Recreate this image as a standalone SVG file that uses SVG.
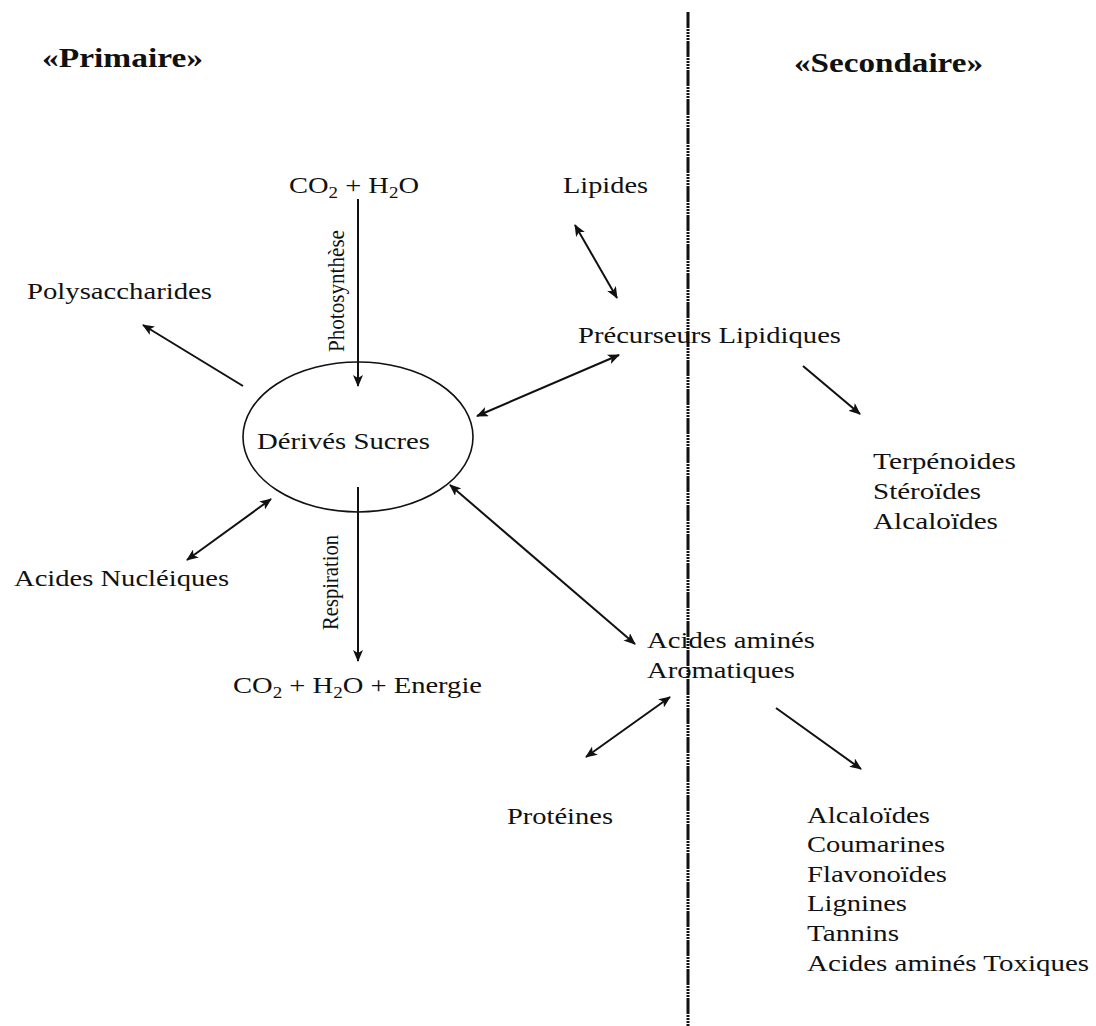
<svg xmlns="http://www.w3.org/2000/svg" width="1096" height="1026" viewBox="0 0 1096 1026">
<style>
  text { font-family: "Liberation Serif", "Times New Roman", serif; font-size: 24px; fill: #111; }
  .title { font-weight: bold; font-size: 27px; }
  .rot { font-size: 20px; }
  .sub { font-size: 16px; }
  .conn { stroke: #111; stroke-width: 2; fill: none; }
  .divider { stroke: #111; stroke-width: 3; stroke-dasharray: 16 1 2 1 2 1 2 1 2 1; fill: none; }
  .node { fill: none; stroke: #111; stroke-width: 1.6; }
</style>
<defs>
  <marker id="ah" viewBox="0 0 12 10" markerWidth="12" markerHeight="10" refX="11" refY="5" orient="auto-start-reverse" markerUnits="userSpaceOnUse">
    <path d="M0,0 L12,5 L0,10 L3,5 z" fill="#111"/>
  </marker>
</defs>
<rect width="1096" height="1026" fill="#fff"/>

<g id="titles">
  <text class="title" x="42" y="67" textLength="161" lengthAdjust="spacingAndGlyphs">«Primaire»</text>
  <text class="title" x="794" y="72" textLength="189" lengthAdjust="spacingAndGlyphs">«Secondaire»</text>
</g>

<g id="connectors">
  <line class="divider" x1="688" y1="12" x2="688" y2="1026"/>
  <line class="conn" x1="358" y1="199" x2="358" y2="386" marker-end="url(#ah)"/>
  <line class="conn" x1="358" y1="487" x2="358" y2="661" marker-end="url(#ah)"/>
  <line class="conn" x1="243" y1="386" x2="143" y2="325" marker-end="url(#ah)"/>
  <line class="conn" x1="187" y1="560" x2="271" y2="499" marker-start="url(#ah)" marker-end="url(#ah)"/>
  <line class="conn" x1="575" y1="225" x2="617" y2="298" marker-start="url(#ah)" marker-end="url(#ah)"/>
  <line class="conn" x1="477" y1="416" x2="619" y2="355" marker-start="url(#ah)" marker-end="url(#ah)"/>
  <line class="conn" x1="803" y1="366" x2="860" y2="414" marker-end="url(#ah)"/>
  <line class="conn" x1="450" y1="485" x2="635" y2="644" marker-start="url(#ah)" marker-end="url(#ah)"/>
  <line class="conn" x1="586" y1="757" x2="670" y2="697" marker-start="url(#ah)" marker-end="url(#ah)"/>
  <line class="conn" x1="776" y1="708" x2="861" y2="769" marker-end="url(#ah)"/>
  <text class="rot" transform="translate(344,352) scale(1.2,1) rotate(-90)" textLength="122" lengthAdjust="spacingAndGlyphs">Photosynthèse</text>
  <text class="rot" transform="translate(338,630) scale(1.2,1) rotate(-90)" textLength="95" lengthAdjust="spacingAndGlyphs">Respiration</text>
</g>

<g id="co2-h2o">
  <text x="289" y="193" textLength="130" lengthAdjust="spacingAndGlyphs">CO<tspan class="sub" dy="5">2</tspan><tspan dy="-5"> + H</tspan><tspan class="sub" dy="5">2</tspan><tspan dy="-5">O</tspan></text>
</g>

<g id="derives-sucres">
  <ellipse class="node" cx="358" cy="437" rx="115" ry="75"/>
  <text x="257" y="449" textLength="173" lengthAdjust="spacingAndGlyphs">Dérivés Sucres</text>
</g>

<g id="polysaccharides">
  <text x="27" y="299" textLength="185" lengthAdjust="spacingAndGlyphs">Polysaccharides</text>
</g>

<g id="acides-nucleiques">
  <text x="14" y="586" textLength="215" lengthAdjust="spacingAndGlyphs">Acides Nucléiques</text>
</g>

<g id="co2-h2o-energie">
  <text x="233" y="693" textLength="249" lengthAdjust="spacingAndGlyphs">CO<tspan class="sub" dy="5">2</tspan><tspan dy="-5"> + H</tspan><tspan class="sub" dy="5">2</tspan><tspan dy="-5">O + Energie</tspan></text>
</g>

<g id="lipides">
  <text x="563" y="193" textLength="85" lengthAdjust="spacingAndGlyphs">Lipides</text>
</g>

<g id="precurseurs-lipidiques">
  <text x="578" y="343" textLength="263" lengthAdjust="spacingAndGlyphs">Précurseurs Lipidiques</text>
</g>

<g id="terpenoides">
  <text x="873" y="469" textLength="143" lengthAdjust="spacingAndGlyphs">Terpénoides</text>
  <text x="873" y="499" textLength="108" lengthAdjust="spacingAndGlyphs">Stéroïdes</text>
  <text x="873" y="529" textLength="125" lengthAdjust="spacingAndGlyphs">Alcaloïdes</text>
</g>

<g id="acides-amines-aromatiques">
  <text x="647" y="648" textLength="168" lengthAdjust="spacingAndGlyphs">Acides aminés</text>
  <text x="647" y="678" textLength="148" lengthAdjust="spacingAndGlyphs">Aromatiques</text>
</g>

<g id="proteines">
  <text x="507" y="824" textLength="106" lengthAdjust="spacingAndGlyphs">Protéines</text>
</g>

<g id="secondaires-aromatiques">
  <text x="807" y="823" textLength="123" lengthAdjust="spacingAndGlyphs">Alcaloïdes</text>
  <text x="807" y="852" textLength="138" lengthAdjust="spacingAndGlyphs">Coumarines</text>
  <text x="807" y="882" textLength="140" lengthAdjust="spacingAndGlyphs">Flavonoïdes</text>
  <text x="807" y="911" textLength="100" lengthAdjust="spacingAndGlyphs">Lignines</text>
  <text x="807" y="941" textLength="92" lengthAdjust="spacingAndGlyphs">Tannins</text>
  <text x="807" y="971" textLength="282" lengthAdjust="spacingAndGlyphs">Acides aminés Toxiques</text>
</g>
</svg>
